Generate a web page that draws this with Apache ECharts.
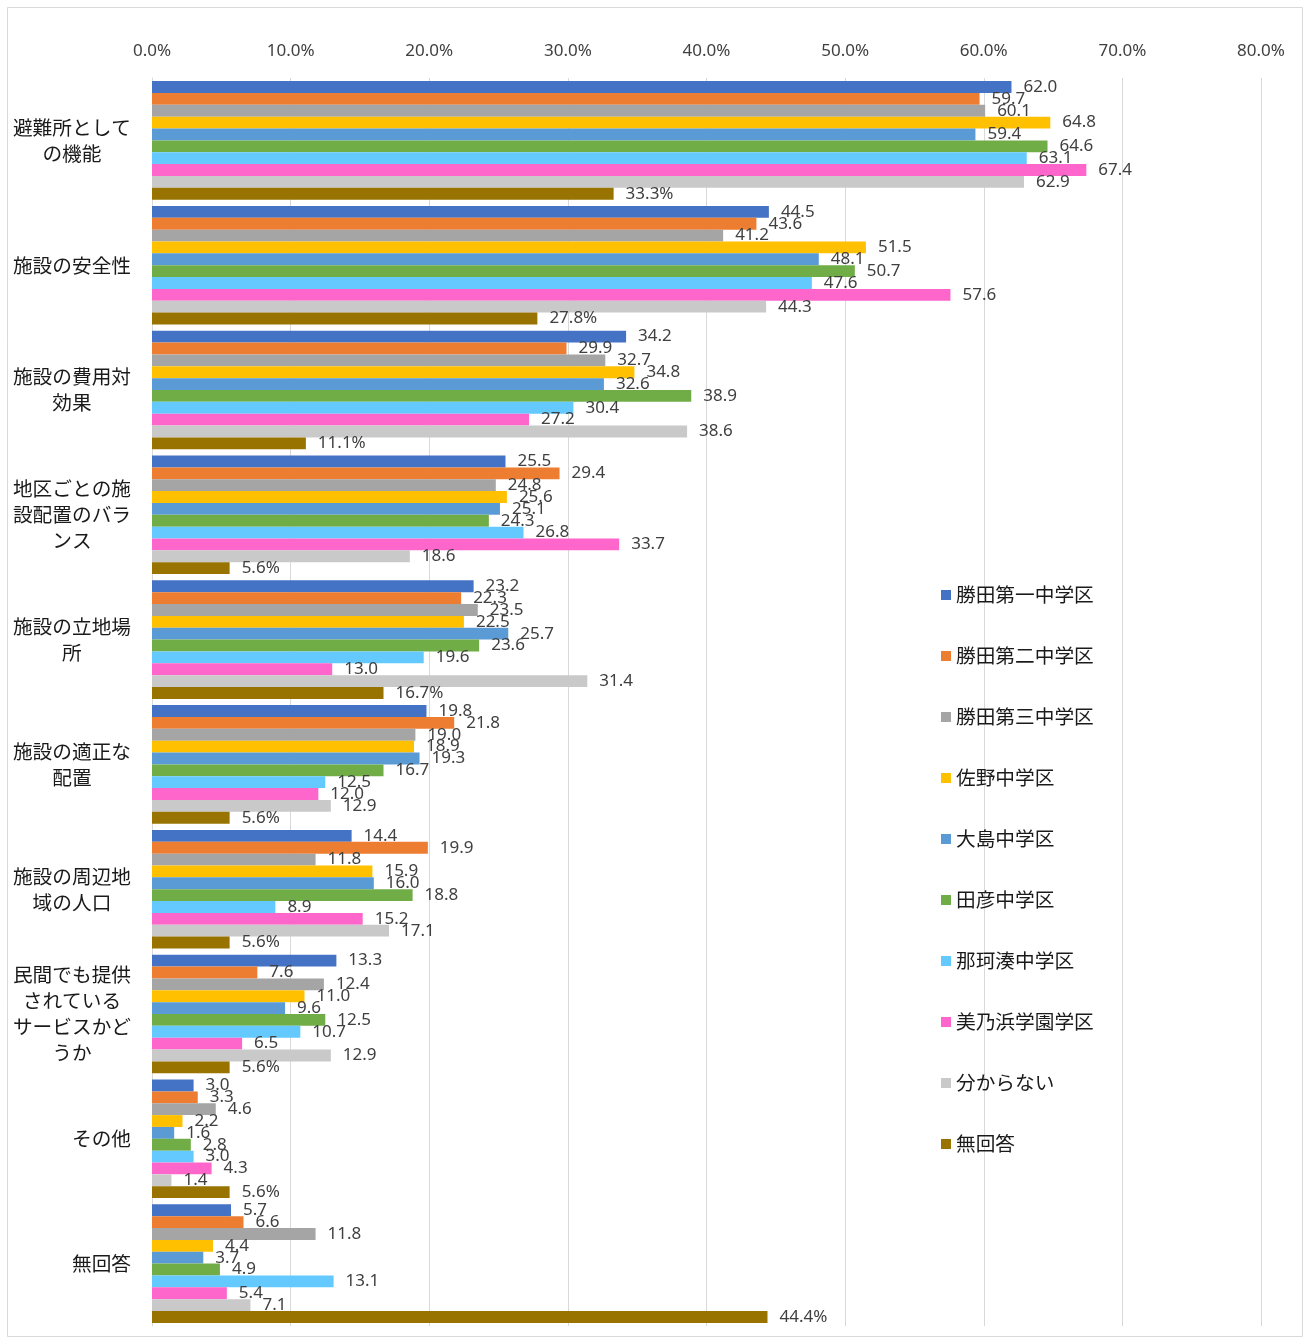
<!DOCTYPE html>
<html><head><meta charset="utf-8">
<script src="https://cdn.jsdelivr.net/npm/echarts@6/dist/echarts.min.js"></script>
<style>html,body{margin:0;padding:0;background:#fff}#c{width:1311px;height:1344px}</style>
</head><body><div id="c"></div>
<script>
const categories = ['避難所として\nの機能','施設の安全性','施設の費用対\n効果','地区ごとの施\n設配置のバラ\nンス','施設の立地場\n所','施設の適正な\n配置','施設の周辺地\n域の人口','民間でも提供\nされている\nサービスかど\nうか','その他','無回答'];
const seriesNames = ['勝田第一中学区','勝田第二中学区','勝田第三中学区','佐野中学区','大島中学区','田彦中学区','那珂湊中学区','美乃浜学園学区','分からない','無回答'];
const katsuta1 = [62.0,44.5,34.2,25.5,23.2,19.8,14.4,13.3,3.0,5.7];
const katsuta2 = [59.7,43.6,29.9,29.4,22.3,21.8,19.9,7.6,3.3,6.6];
const katsuta3 = [60.1,41.2,32.7,24.8,23.5,19.0,11.8,12.4,4.6,11.8];
const sano     = [64.8,51.5,34.8,25.6,22.5,18.9,15.9,11.0,2.2,4.4];
const oshima   = [59.4,48.1,32.6,25.1,25.7,19.3,16.0,9.6,1.6,3.7];
const tahiko   = [64.6,50.7,38.9,24.3,23.6,16.7,18.8,12.5,2.8,4.9];
const nakaminato = [63.1,47.6,30.4,26.8,19.6,12.5,8.9,10.7,3.0,13.1];
const minohama = [67.4,57.6,27.2,33.7,13.0,12.0,15.2,6.5,4.3,5.4];
const wakaranai = [62.9,44.3,38.6,18.6,31.4,12.9,17.1,12.9,1.4,7.1];
const mukaitou = [33.3,27.8,11.1,5.6,16.7,5.6,5.6,5.6,5.6,44.4];
const xTicks = [0,10,20,30,40,50,60,70,80];

const values = [katsuta1,katsuta2,katsuta3,sano,oshima,tahiko,nakaminato,minohama,wakaranai,mukaitou];
const colors = ['#4472C4','#ED7D31','#A5A5A5','#FFC000','#5B9BD5','#70AD47','#63C9FE','#FF66CC','#C9C9C9','#997300'];

const chart = echarts.init(document.getElementById('c'));
const series = seriesNames.map((n,i)=>({
  name:n, type:'bar', data:values[i],
  barGap:'0%', barCategoryGap:'5%',
  itemStyle:{color:colors[i]},
  label:{show:true, position:'right', distance:12, color:'#404040', fontSize:17, fontFamily:'Noto Sans',
    formatter:(p)=> p.value.toFixed(1) + (i===values.length-1 ? '%' : '')}
}));
chart.setOption({
  animation:false,
  backgroundColor:'#fff',
  graphic:[{type:'rect', shape:{x:7.5,y:7.5,width:1295,height:1329}, style:{fill:'none', stroke:'#d9d9d9', lineWidth:1}, silent:true, z:-10}],
  grid:{left:152, right:50, top:78, bottom:18, containLabel:false},
  legend:{orient:'vertical', left:941, top:585, padding:0, itemWidth:10, itemHeight:10, itemGap:41, icon:'rect', itemStyle:{borderWidth:0},
    textStyle:{fontSize:19.7, fontFamily:'Noto Sans CJK JP', color:'#1a1a1a', lineHeight:20}, data:seriesNames},
  xAxis:{type:'value', position:'top', min:xTicks[0], max:xTicks[xTicks.length-1], interval:10,
    axisLine:{show:false}, axisTick:{show:false},
    splitLine:{lineStyle:{color:'#d9d9d9', width:1}},
    axisLabel:{margin:18, fontSize:17, color:'#404040', fontFamily:'Noto Sans', formatter:(v)=>v.toFixed(1)+'%'}},
  yAxis:{type:'category', data:categories, inverse:true,
    axisLine:{show:true, lineStyle:{color:'#d9d9d9'}}, axisTick:{show:false},
    axisLabel:{margin:21, align:'right', interval:0,
      formatter:(v)=>v.split('\n').map(l=>'{c|'+l+'}').join('\n'),
      rich:{c:{align:'center', fontSize:19.7, lineHeight:26, fontFamily:'Noto Sans CJK JP', color:'#1a1a1a'}}}},
  series:series
});
</script></body></html>
